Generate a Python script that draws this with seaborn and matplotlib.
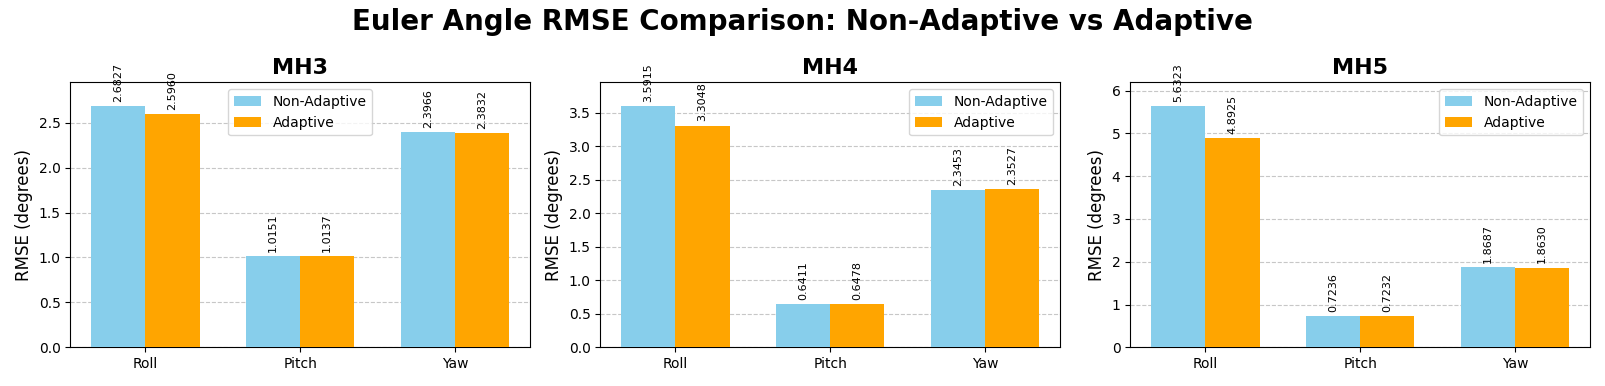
import numpy as np
import pandas as pd
import matplotlib
matplotlib.use("Agg")
import matplotlib.pyplot as plt
import seaborn as sns

datasets = ["MH3", "MH4", "MH5"]
angles = ["Roll", "Pitch", "Yaw"]
methods = ["Non-Adaptive", "Adaptive"]

non_adaptive = {
    "MH3": [2.6827, 1.0151, 2.3966],
    "MH4": [3.5915, 0.6411, 2.3453],
    "MH5": [5.6323, 0.7236, 1.8687],
}
adaptive = {
    "MH3": [2.5960, 1.0137, 2.3832],
    "MH4": [3.3048, 0.6478, 2.3527],
    "MH5": [4.8925, 0.7232, 1.8630],
}

colors = {"Non-Adaptive": "skyblue", "Adaptive": "orange"}

rows = []
for ds in datasets:
    for i, ang in enumerate(angles):
        rows.append({"dataset": ds, "angle": ang, "method": "Non-Adaptive", "rmse": non_adaptive[ds][i]})
        rows.append({"dataset": ds, "angle": ang, "method": "Adaptive", "rmse": adaptive[ds][i]})
df = pd.DataFrame(rows)

fig, axes = plt.subplots(1, 3, figsize=(16.05, 3.86), dpi=100)

for ax, ds in zip(axes, datasets):
    sub = df[df["dataset"] == ds]
    sns.barplot(data=sub, x="angle", y="rmse", hue="method", order=angles,
                hue_order=methods, palette=colors, width=0.7, saturation=1,
                ax=ax, zorder=3)
    for cont in ax.containers:
        ax.bar_label(cont, fmt="%.4f", rotation=90, padding=3, fontsize=8)
    ax.set_xlim(-0.485, 2.485)
    ax.set_ylim(0, sub["rmse"].max() * 1.1)
    ax.set_title(ds, fontsize=16, fontweight="bold")
    ax.set_xlabel("")
    ax.set_ylabel("RMSE (degrees)", fontsize=12)
    ax.grid(axis="y", linestyle="--", alpha=0.7, zorder=0)
    ax.set_axisbelow(True)
    ax.legend(title=None, loc="best", fontsize=10)

fig.suptitle("Euler Angle RMSE Comparison: Non-Adaptive vs Adaptive", fontsize=20, fontweight="bold")
plt.tight_layout()
plt.savefig("out.png", dpi=100)
